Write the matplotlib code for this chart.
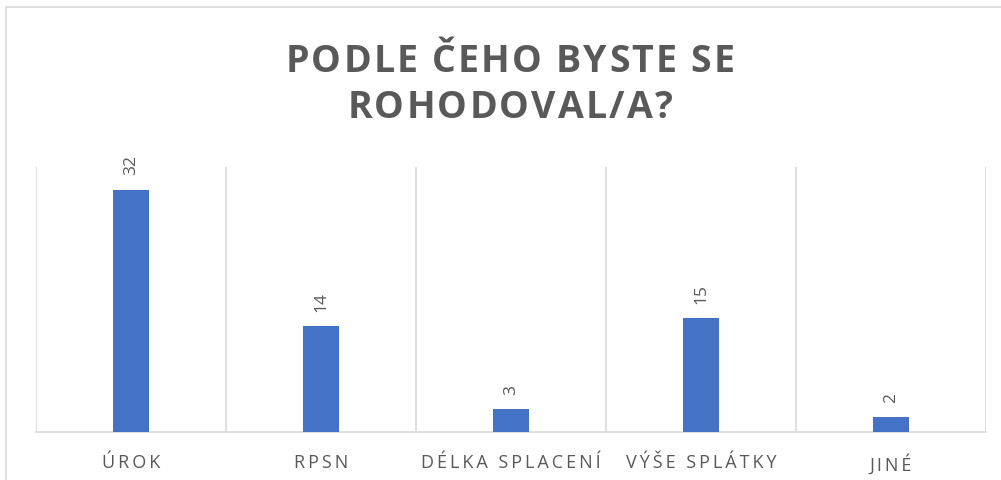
import matplotlib
matplotlib.use("Agg")
import matplotlib.pyplot as plt
from matplotlib.patches import Rectangle
from matplotlib.font_manager import FontProperties, findfont
from matplotlib.ft2font import FT2Font
import numpy as np

# data
kategorie = ["ÚROK", "RPSN", "DÉLKA SPLACENÍ", "VÝŠE SPLÁTKY", "JINÉ"]
pocty = [32, 14, 3, 15, 2]
titulek = ["PODLE ČEHO BYSTE SE", "ROHODOVAL/A?"]

seda = "#595959"
modra = "#4472C4"
mrizka = "#D9D9D9"

W, H = 1001, 481


def proloz(text, mezera="\u2009"):
    # fake letter spacing, matplotlib has none
    return mezera.join(list(text))


def radek_s_prolozenim(fig, text, stred_px, zaklad_px, mezera_px, velikost, **kw):
    # place glyphs one by one so the title gets real tracking
    font = FT2Font(findfont(FontProperties(family="Open Sans", weight="bold")))
    font.set_size(velikost, fig.dpi)
    posuny = []
    for ch in text:
        g = font.load_char(ord(ch))
        posuny.append(g.linearHoriAdvance / 65536)
    celkem = sum(posuny) + mezera_px * (len(text) - 1)
    x = stred_px - celkem / 2
    for ch, p in zip(text, posuny):
        if ch != " ":
            fig.text(x / W, 1 - zaklad_px / H, ch, ha="left", va="baseline",
                     fontsize=velikost, fontweight="bold", **kw)
        x += p + mezera_px


plt.rcParams["font.family"] = ["Open Sans", "DejaVu Sans"]

fig = plt.figure(figsize=(W / 100, H / 100), dpi=100)
ax = fig.add_axes([36 / W, 1 - 433 / H, 950 / W, 265 / H])

# outer frame of the chart area (cut off right and bottom)
fig.patches.append(Rectangle((6 / W, -0.1), 1.2, 1 - 8 / H + 0.1,
                             transform=fig.transFigure, fill=False,
                             edgecolor=mrizka, linewidth=1.2))

xs = np.arange(len(kategorie))
sloupce = ax.bar(xs, pocty, width=0.185, color=modra, zorder=3)

for x, y in zip(xs, pocty):
    ax.annotate(str(y), (x, y), textcoords="offset points", xytext=(0, 11),
                ha="center", va="bottom", rotation=90, color=seda, fontsize=12.5)

ax.set_xlim(-0.5, len(kategorie) - 0.5)
ax.set_ylim(0, 35)

# vertical separators between categories
for g in np.arange(-0.5, len(kategorie), 1.0):
    ax.axvline(g, color=mrizka, linewidth=1.2, zorder=1)

for s in ["top", "right", "left"]:
    ax.spines[s].set_visible(False)
ax.spines["bottom"].set_color(mrizka)
ax.spines["bottom"].set_linewidth(1.2)
ax.set_yticks([])
ax.set_xticks(xs)
ax.set_xticklabels([proloz(k) for k in kategorie], color=seda, fontsize=13)
ax.tick_params(axis="x", length=0, pad=15)

radek_s_prolozenim(fig, titulek[0], 510, 72, 2.2, 27, color=seda)
radek_s_prolozenim(fig, titulek[1], 510, 117.5, 2.2, 27, color=seda)

fig.savefig("out.png", dpi=100)
